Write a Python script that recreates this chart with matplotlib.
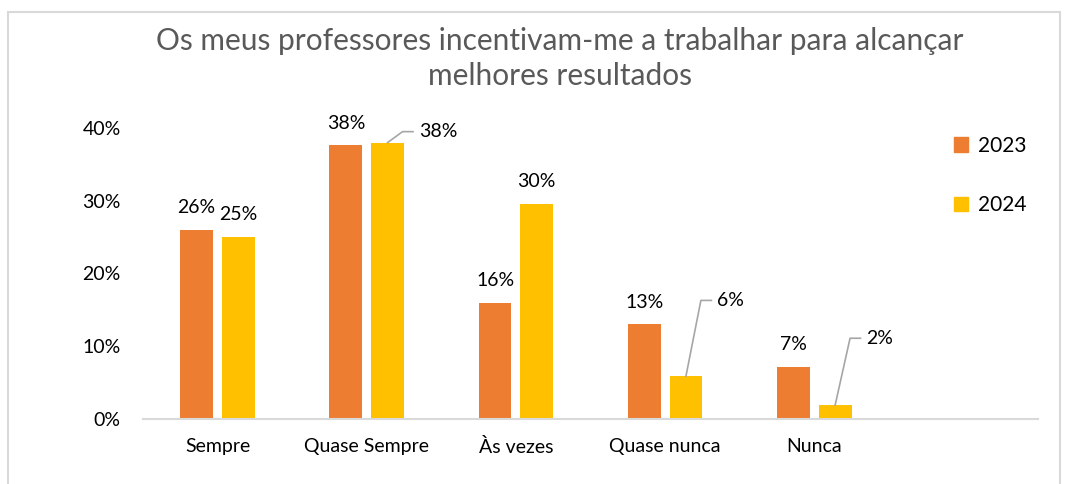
import matplotlib
matplotlib.use("Agg")
import matplotlib.pyplot as plt
from matplotlib.patches import Rectangle, Patch
from matplotlib.ticker import PercentFormatter
import numpy as np

categories = ["Sempre", "Quase Sempre", "Às vezes", "Quase nunca", "Nunca"]
v2023 = [0.26, 0.376, 0.16, 0.13, 0.072]
v2024 = [0.25, 0.38, 0.296, 0.059, 0.019]
labels2023 = ["26%", "38%", "16%", "13%", "7%"]
labels2024 = ["25%", "38%", "30%", "6%", "2%"]
series = ["2023", "2024"]
title_lines = ["Os meus professores incentivam-me a trabalhar para alcançar", "melhores resultados"]

c23 = "#ED7D31"
c24 = "#FFC000"
font = ["Lato", "DejaVu Sans"]
plt.rcParams['font.family'] = font

W, H = 1067, 484
fig = plt.figure(figsize=(W/100, H/100), dpi=100)
fig.patch.set_facecolor("white")
fig.patches.append(Rectangle((8/W, -0.1), (1060-8)/W, 1.1 - 12/H, transform=fig.transFigure,
                             fill=False, edgecolor="#D9D9D9", linewidth=1.5))

ax = fig.add_axes([143/W, (H-419)/H, (1038-143)/W, (419-128)/H])
x = np.arange(len(categories))
bw = 0.22
off = 0.14
ax.bar(x - off, v2023, bw, color=c23, label=series[0])
ax.bar(x + off, v2024, bw, color=c24, label=series[1])

ax.set_xlim(-0.5, 5.5)
ax.set_ylim(0, 0.40)
ax.set_yticks([0, 0.1, 0.2, 0.3, 0.4])
ax.yaxis.set_major_formatter(PercentFormatter(1.0, decimals=0))
ax.set_xticks(x)
ax.set_xticklabels(categories)
for s in ["top", "right", "left"]:
    ax.spines[s].set_visible(False)
ax.spines["bottom"].set_color("#D9D9D9")
ax.spines["bottom"].set_linewidth(1.5)
ax.tick_params(axis="both", length=0, labelsize=14, colors="#000000")
ax.tick_params(axis="y", pad=16)
ax.tick_params(axis="x", pad=14)
ax.set_facecolor("none")

lab_fs = 14
for i in range(len(categories)):
    ax.annotate(labels2023[i], (x[i] - off, v2023[i]), xytext=(0, 10), textcoords="offset points",
                ha="center", va="bottom", fontsize=lab_fs)
leader = {1: 0.395, 3: 0.163, 4: 0.111}
for i in range(len(categories)):
    if i in leader:
        ly = leader[i]
        bx, by = x[i] + off, v2024[i]
        kx = bx + 0.1
        ex = bx + 0.17
        ax.plot([bx, kx, ex], [by, ly, ly], color="#A6A6A6", lw=1.2, clip_on=False)
        ax.text(ex + 0.04, ly, labels2024[i], ha="left", va="center", fontsize=lab_fs)
    else:
        ax.annotate(labels2024[i], (x[i] + off, v2024[i]), xytext=(0, 10), textcoords="offset points",
                    ha="center", va="bottom", fontsize=lab_fs)

fig.text(560/W, 1 - 41/H, title_lines[0], ha="center", va="center", fontsize=21.5,
         color="#595959")
fig.text(560/W, 1 - 76/H, title_lines[1], ha="center", va="center", fontsize=21.5,
         color="#595959")

handles = [Patch(color=c23), Patch(color=c24)]
fig.legend(handles, series, loc="upper left", bbox_to_anchor=(935/W, 1 - 117/H),
           frameon=False, fontsize=15, handlelength=0.7, handleheight=0.7,
           labelspacing=1.9, handletextpad=0.45)

fig.savefig("out.png", dpi=100, facecolor="white")
